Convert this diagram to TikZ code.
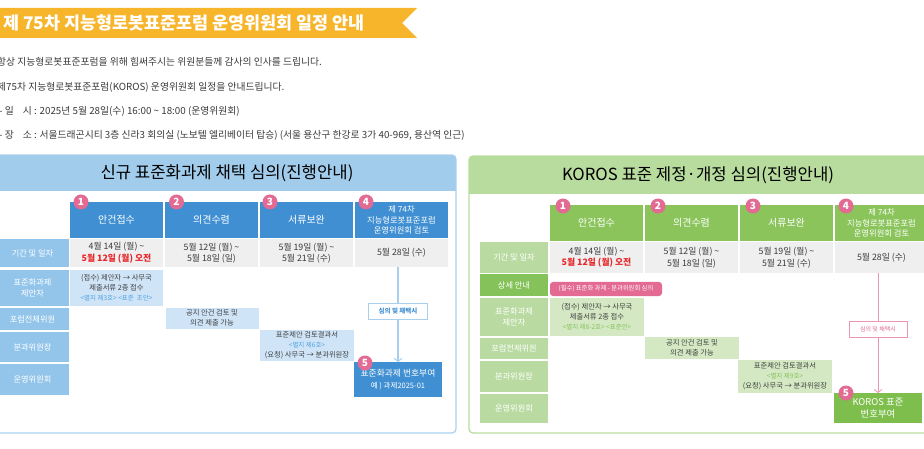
\documentclass[tikz,border=0pt]{standalone}
\usepackage{fontspec}
\setmainfont{Noto Sans CJK KR}
\usetikzlibrary{arrows.meta}
\definecolor{orng}{HTML}{F7B52C}
\definecolor{bodyc}{HTML}{3A3A3A}
\definecolor{lhead}{HTML}{A2CCEC}
\definecolor{lborder}{HTML}{A8CFEE}
\definecolor{llabel}{HTML}{93C5EB}
\definecolor{lstep}{HTML}{3F8FD2}
\definecolor{llight}{HTML}{CFE4F7}
\definecolor{lblue}{HTML}{4FA3E0}
\definecolor{rhead}{HTML}{B8DB9E}
\definecolor{rlabel}{HTML}{B9DBA2}
\definecolor{rlabeldark}{HTML}{86C25A}
\definecolor{rstep}{HTML}{8AC45B}
\definecolor{rlight}{HTML}{D4E9C3}
\definecolor{rgreen}{HTML}{7DBE4C}
\definecolor{rgtext}{HTML}{86C25A}
\definecolor{pinkc}{HTML}{E26A93}
\definecolor{grayc}{HTML}{EFEFEF}
\definecolor{redc}{HTML}{E8262A}
\definecolor{celltext}{HTML}{404040}
\newcommand\myfs[2]{\fontsize{#1}{#2}\selectfont}
\begin{document}
\begin{tikzpicture}[x=1pt,y=-1pt,
  box/.style={inner sep=0pt, outer sep=0pt, align=center},
  bodytext/.style={anchor=west, inner sep=0pt, text=bodyc, font=\myfs{9.8}{12}},
  ltitle/.style={inner sep=0pt, text=black, font=\myfs{16.7}{19}},
  lrow/.style={box, fill=llabel, text=white, font=\myfs{8.2}{11}},
  rrow/.style={box, fill=rlabel, text=white, font=\myfs{8.2}{11}},
  lstepbox/.style={box, fill=lstep, text=white, font=\myfs{10}{11}},
  rstepbox/.style={box, fill=rstep, text=white, font=\myfs{10}{11}},
  datebox/.style={box, fill=grayc, text=bodyc, font=\myfs{8.8}{11.5}},
  lcell/.style={box, fill=llight, text=celltext, font=\myfs{7.3}{10}},
  rcell/.style={box, fill=rlight, text=celltext, font=\myfs{7.3}{10}},
  numc/.style={circle, fill=pinkc, text=white, inner sep=0pt, minimum size=15pt, font=\myfs{10}{10}\bfseries},
  tagbox/.style={box, fill=white, line width=1pt, font=\myfs{6.5}{8}\bfseries},
  lline/.style={draw=lborder, line width=1.5pt, -{Straight Barb[length=3pt,width=8pt,line width=1pt]}},
  rline/.style={draw=pinkc!70, line width=1pt, -{Straight Barb[length=3pt,width=8pt,line width=0.8pt]}}
]
\useasboundingbox (0,0) rectangle (924,449);

% ---- banner and intro ----
\fill[orng] (-5,8) -- (417,8) -- (402,23) -- (417,38) -- (-5,38) -- cycle;
\node[anchor=west, inner sep=0pt, text=white, font=\myfs{17.4}{19}\bfseries] (title) at (3,23) {제 75차 지능형로봇표준포럼 운영위원회 일정 안내};

\node[bodytext] (t1) at (-3,62) {항상 지능형로봇표준포럼을 위해 힘써주시는 위원분들께 감사의 인사를 드립니다.};
\node[bodytext] (t2) at (-3,87) {제75차 지능형로봇표준포럼(KOROS) 운영위원회 일정을 안내드립니다.};
\node[bodytext] (t3) at (-1,111) {- 일\hspace{9pt}시 : 2025년 5월 28일(수) 16:00 \textasciitilde{} 18:00 (운영위원회)};
\node[bodytext] (t4) at (-1,135) {- 장\hspace{9pt}소 : 서울드래곤시티 3층 신라3 회의실 (노보텔 엘리베이터 탑승) (서울 용산구 한강로 3가 40-969, 용산역 인근)};

% ---- left panel ----
\begin{scope}
\clip[rounded corners=4pt] (-10,155) rectangle (456,433);
\fill[lhead] (-10,155) rectangle (456,191);
\end{scope}
\draw[lborder, line width=1.2pt, rounded corners=4pt] (-10,155) rectangle (456,433);
\node[ltitle] (lt) at (227,173) {신규 표준화과제 채택 심의(진행안내)};

\node[lstepbox, minimum width=93pt, minimum height=36pt] (h1) at (116.5,220) {안건접수};
\node[lstepbox, minimum width=93pt, minimum height=36pt] (h2) at (211.5,220) {의견수렴};
\node[lstepbox, minimum width=93pt, minimum height=36pt] (h3) at (306.5,220) {서류보완};
\node[lstepbox, minimum width=93pt, minimum height=36pt, font=\myfs{8.3}{10.5}] (h4) at (401.5,220) {제 74차\\지능형로봇표준포럼\\운영위원회 검토};

\node[lrow, minimum width=73pt, minimum height=28pt] (lr1) at (32.5,253) {기간 및 일자};
\node[lrow, minimum width=73pt, minimum height=36pt] (lr2) at (32.5,288) {표준화과제\\제안자};
\node[lrow, minimum width=73pt, minimum height=22pt] (lr3) at (32.5,319) {포럼전체위원};
\node[lrow, minimum width=73pt, minimum height=30pt] (lr4) at (32.5,347) {분과위원장};
\node[lrow, minimum width=73pt, minimum height=31pt] (lr5) at (32.5,379.5) {운영위원회};

\node[datebox, minimum width=93pt, minimum height=28pt] (d1) at (116.5,253) {4월 14일 (월) \textasciitilde\\{\color{redc}\bfseries 5월 12일 (월) 오전}};
\node[datebox, minimum width=93pt, minimum height=28pt] (d2) at (211.5,253) {5월 12일 (월) \textasciitilde\\5월 18일 (일)};
\node[datebox, minimum width=93pt, minimum height=28pt] (d3) at (306.5,253) {5월 19일 (월) \textasciitilde\\5월 21일 (수)};
\node[datebox, minimum width=93pt, minimum height=28pt] (d4) at (401.5,253) {5월 28일 (수)};

\node[lcell, minimum width=93pt, minimum height=36pt] (p1) at (116.5,288) {(접수) 제안자 → 사무국\\제출서류 2종 접수\\{\color{lblue}\myfs{6.5}{10}<별지 제3호> <표준\hspace{3pt}초안>}};
\node[lcell, minimum width=93pt, minimum height=21pt] (f2) at (212,318) {공지 안건 검토 및\\의견 제출 가능};
\node[lcell, minimum width=94pt, minimum height=31pt] (c3) at (307,345.5) {표준제안 검토결과서\\{\color{lblue}\myfs{6.5}{10}<별지 제6호>}\\(요청) 사무국 → 분과위원장};
\node[box, fill=lstep, text=white, minimum width=88pt, minimum height=35pt, font=\myfs{8.8}{12}] (s5) at (398,379.5) {표준화과제 번호부여\\{\myfs{7.5}{12}예 ) 과제2025-01}};

\draw[lline] (d4.south -| s5.north) -- (s5.north);
\node[tagbox, draw=lborder, text=lstep, minimum width=59pt, minimum height=16pt] (tg1) at (398,311) {심의 및 채택시};

\node[numc] (n1) at (81,202) {1};
\node[numc] (n2) at (176.5,202) {2};
\node[numc] (n3) at (270,202) {3};
\node[numc] (n4) at (366,202) {4};
\node[numc] (n5) at (365,363) {5};

% ---- right panel ----
\begin{scope}
\clip[rounded corners=4pt] (469,156) rectangle (940,433);
\fill[rhead] (469,156) rectangle (940,194);
\end{scope}
\draw[rhead, line width=1.2pt, rounded corners=4pt] (469,156) rectangle (940,433);
\node[ltitle] (rt) at (698,175) {KOROS 표준 제정·개정 심의(진행안내)};

\node[rstepbox, minimum width=93pt, minimum height=36pt] (H1) at (596.5,223) {안건접수};
\node[rstepbox, minimum width=93pt, minimum height=36pt] (H2) at (691.5,223) {의견수렴};
\node[rstepbox, minimum width=93pt, minimum height=36pt] (H3) at (786.5,223) {서류보완};
\node[rstepbox, minimum width=93pt, minimum height=36pt, font=\myfs{8.3}{10.5}] (H4) at (881.5,223) {제 74차\\지능형로봇표준포럼\\운영위원회 검토};

\node[rrow, minimum width=68pt, minimum height=31pt] (rr1) at (514,257.5) {기간 및 일자};
\node[rrow, fill=rlabeldark, minimum width=68pt, minimum height=22pt] (rr2) at (514,285) {상세 안내};
\node[rrow, minimum width=68pt, minimum height=38pt] (rr3) at (514,317) {표준화과제\\제안자};
\node[rrow, minimum width=68pt, minimum height=21pt] (rr4) at (514,348.5) {포럼전체위원};
\node[rrow, minimum width=68pt, minimum height=31pt] (rr5) at (514,376.5) {분과위원장};
\node[rrow, minimum width=68pt, minimum height=29pt] (rr6) at (514,408.5) {운영위원회};

\node[datebox, minimum width=93pt, minimum height=31pt] (D1) at (596.5,257.5) {4월 14일 (월) \textasciitilde\\{\color{redc}\bfseries 5월 12일 (월) 오전}};
\node[datebox, minimum width=93pt, minimum height=31pt] (D2) at (691.5,257.5) {5월 12일 (월) \textasciitilde\\5월 18일 (일)};
\node[datebox, minimum width=93pt, minimum height=31pt] (D3) at (786.5,257.5) {5월 19일 (월) \textasciitilde\\5월 21일 (수)};
\node[datebox, minimum width=93pt, minimum height=31pt] (D4) at (881.5,257.5) {5월 28일 (수)};

\node[box, fill=pinkc, text=white, rounded corners=3pt, minimum width=112pt, minimum height=14pt, font=\myfs{6.3}{8}] (pill) at (606,289) {(필수) 표준화 과제 - 분과위원회 심의};
\node[rcell, minimum width=94pt, minimum height=38pt] (P1) at (597,316.5) {(접수) 제안자 → 사무국\\제출서류 2종 접수\\{\color{rgtext}\myfs{6.5}{10}<별지 제8-2호> <표준안>}};
\node[rcell, minimum width=94pt, minimum height=22pt] (F2) at (692,348) {공지 안건 검토 및\\의견 제출 가능};
\node[rcell, minimum width=94pt, minimum height=33pt] (C3) at (785,376.5) {표준제안 검토결과서\\{\color{rgtext}\myfs{6.5}{10}<별지 제9호>}\\(요청) 사무국 → 분과위원장};
\node[box, fill=rgreen, text=white, minimum width=88pt, minimum height=30pt, font=\myfs{9.4}{12}] (S5) at (878,408) {KOROS 표준\\번호부여};

\draw[rline] (D4.south -| S5.north) -- (S5.north);
\node[tagbox, draw=pinkc!70, line width=0.8pt, text=pinkc, font=\myfs{6}{8}, minimum width=58pt, minimum height=16pt] (tg2) at (878,329) {심의 및 채택시};

\node[numc] (N1) at (563,206) {1};
\node[numc] (N2) at (658,206) {2};
\node[numc] (N3) at (753,206) {3};
\node[numc] (N4) at (846,206) {4};
\node[numc] (N5) at (846,393) {5};
\end{tikzpicture}
\end{document}
